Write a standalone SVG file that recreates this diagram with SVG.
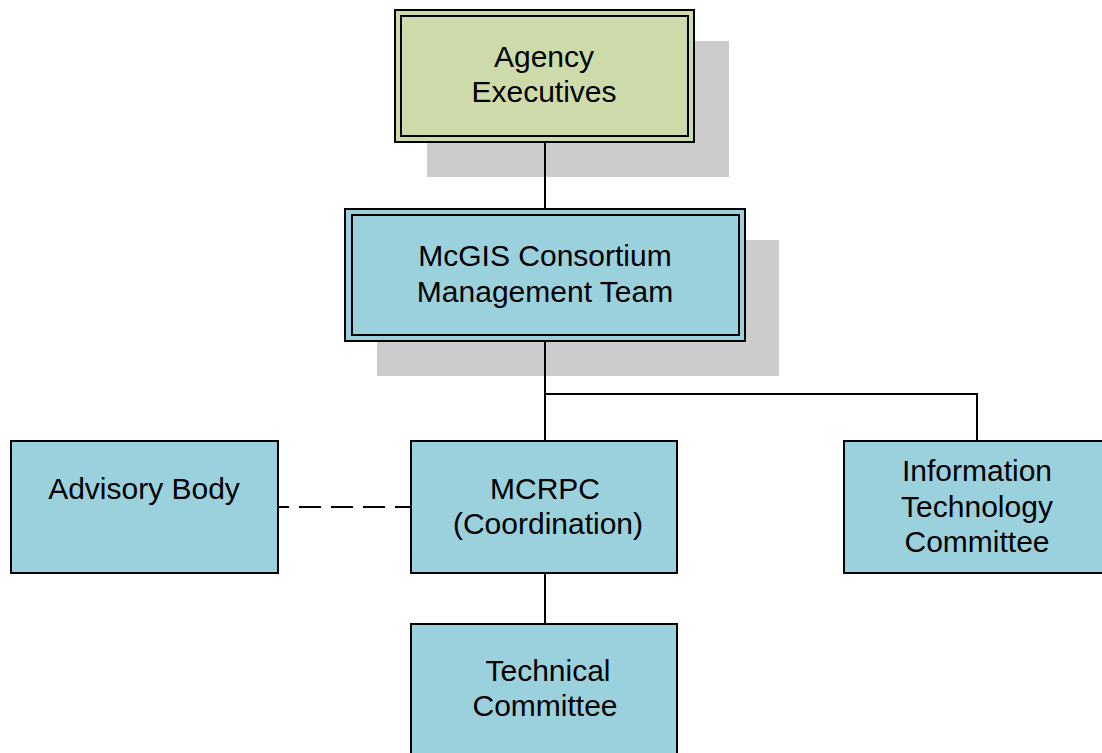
<svg xmlns="http://www.w3.org/2000/svg" width="1102" height="753" viewBox="0 0 1102 753">
<style>
.shadow{fill:#cccccc;stroke:none}
.box{fill:#9bd0dd;stroke:#000;stroke-width:2}
.green{fill:#cddbab;stroke:#000;stroke-width:2}
.inner{fill:none;stroke:#000;stroke-width:2}
.lbl{font-family:"Liberation Sans",Arial,sans-serif;font-size:30px;fill:#000;text-anchor:middle}
.conn{fill:none;stroke:#000;stroke-width:2}
</style>
<rect width="1102" height="753" fill="#fff"/>
<g id="agency-executives">
<rect class="shadow" x="427" y="41" width="302" height="136"/>
<rect class="green" x="395" y="10" width="299" height="132"/>
<rect class="inner" x="401" y="16" width="287" height="120"/>
<text class="lbl" x="544" y="67">Agency</text>
<text class="lbl" x="544" y="102">Executives</text>
</g>
<g id="mcgis-management-team">
<rect class="shadow" x="377" y="240" width="402" height="136"/>
<rect class="box" x="345" y="209" width="400" height="132"/>
<rect class="inner" x="352" y="215" width="387" height="120"/>
<text class="lbl" x="545" y="266">McGIS Consortium</text>
<text class="lbl" x="545" y="302">Management Team</text>
</g>
<g id="advisory-body">
<rect class="box" x="11" y="441" width="267" height="132"/>
<text class="lbl" x="144" y="499">Advisory Body</text>
</g>
<g id="mcrpc">
<rect class="box" x="411" y="441" width="266" height="132"/>
<text class="lbl" x="545" y="499">MCRPC</text>
<text class="lbl" x="548" y="534">(Coordination)</text>
</g>
<g id="it-committee">
<rect class="box" x="844" y="441" width="270" height="132"/>
<text class="lbl" x="977" y="481">Information</text>
<text class="lbl" x="977" y="517">Technology</text>
<text class="lbl" x="977" y="552">Committee</text>
</g>
<g id="technical-committee">
<rect class="box" x="411" y="624" width="266" height="140"/>
<text class="lbl" x="548" y="681">Technical</text>
<text class="lbl" x="545" y="716">Committee</text>
</g>
<g id="connectors">
<line class="conn" x1="545" y1="143" x2="545" y2="208"/>
<line class="conn" x1="545" y1="342" x2="545" y2="440"/>
<polyline class="conn" points="545,394 977,394 977,440"/>
<line class="conn" x1="545" y1="574" x2="545" y2="623"/>
<line class="conn" x1="279" y1="507" x2="410" y2="507" stroke-dasharray="22,10" stroke-dashoffset="12"/>
</g>
</svg>
